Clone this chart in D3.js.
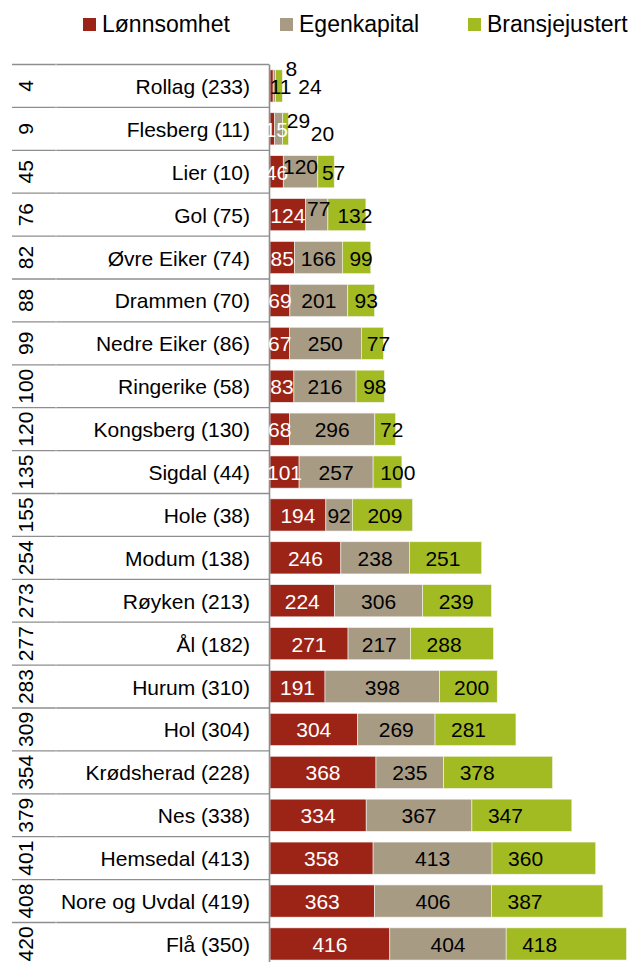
<!DOCTYPE html>
<html>
<head>
<meta charset="utf-8">
<script src="https://cdn.jsdelivr.net/npm/d3@7"></script>
<style>
  body { margin: 0; background: #fff; }
  svg { display: block; font-family: "Liberation Sans", Arial, sans-serif; }
</style>
</head>
<body>
<svg id="chart" width="635" height="962"></svg>
<script>
// kommuner med plassering (venstre kolonne)
const kommuner = ["Rollag (233)", "Flesberg (11)", "Lier (10)", "Gol (75)", "Øvre Eiker (74)", "Drammen (70)",
    "Nedre Eiker (86)", "Ringerike (58)", "Kongsberg (130)", "Sigdal (44)", "Hole (38)", "Modum (138)",
    "Røyken (213)", "Ål (182)", "Hurum (310)", "Hol (304)", "Krødsherad (228)", "Nes (338)",
    "Hemsedal (413)", "Nore og Uvdal (419)", "Flå (350)"];
const rangering = [4, 9, 45, 76, 82, 88, 99, 100, 120, 135, 155, 254, 273, 277, 283, 309, 354, 379, 401, 408, 420];

const seriesNames = ["Lønnsomhet", "Egenkapital", "Bransjejustert"];
const lonnsomhet = [11, 15, 46, 124, 85, 69, 67, 83, 68, 101, 194, 246, 224, 271, 191, 304, 368, 334, 358, 363, 416];
const egenkapital = [8, 29, 120, 77, 166, 201, 250, 216, 296, 257, 92, 238, 306, 217, 398, 269, 235, 367, 413, 406, 404];
const bransjejustert = [24, 20, 57, 132, 99, 93, 77, 98, 72, 100, 209, 251, 239, 288, 200, 281, 378, 347, 360, 387, 418];

const colors = ["#9c2417", "#a89b84", "#a3bb22"];
const labelColors = ["#fff", "#000", "#000"];

// manuelt flyttede etiketter (relativt til midten av segmentet)
const nudges = [
    { row: 0, s: 0, dx: 9, dy: 0, fill: "#000" },
    { row: 0, s: 1, dx: 17, dy: -18 },
    { row: 0, s: 2, dx: 31, dy: 0 },
    { row: 1, s: 0, dx: 4, dy: 0 },
    { row: 1, s: 1, dx: 20, dy: -9 },
    { row: 1, s: 2, dx: 37, dy: 4 },
    { row: 2, s: 1, dx: 0, dy: -6 },
    { row: 3, s: 1, dx: 2, dy: -7 }
];

const data = kommuner.map((k, i) => ({
    kommune: k,
    rank: rangering[i],
    "Lønnsomhet": lonnsomhet[i],
    "Egenkapital": egenkapital[i],
    "Bransjejustert": bransjejustert[i]
}));

const svg = d3.select("#chart");

const chartTop = 64.5, rowH = 42.9;
const y = d3.scaleBand()
    .domain(kommuner)
    .range([chartTop, chartTop + rowH * kommuner.length])
    .paddingInner(0.25)
    .paddingOuter(0.125);

const x = d3.scaleLinear()
    .domain([0, 1250])
    .range([270, 630]);

const stacked = d3.stack().keys(seriesNames)(data);

// tabell-linjer til venstre
const step = y.step();
const boundaries = kommuner.map(k => y(k) - step * 0.125);
boundaries.push(chartTop + rowH * kommuner.length);

svg.append("g")
    .selectAll("line")
    .data(boundaries)
    .enter().append("line")
    .attr("x1", 12)
    .attr("x2", x(0) - 1)
    .attr("y1", d => d)
    .attr("y2", d => d)
    .attr("stroke", "#8e8e8e")
    .attr("stroke-width", 1.3);

// kolonne-skille i tabellen
svg.append("g")
    .selectAll("line")
    .data(boundaries)
    .enter().append("line")
    .attr("x1", 55.5)
    .attr("x2", 56.5)
    .attr("y1", d => d)
    .attr("y2", d => d)
    .attr("stroke", "#d6d6d6")
    .attr("stroke-width", 1.5);

// rangering (rotert)
svg.append("g")
    .selectAll("text")
    .data(data)
    .enter().append("text")
    .attr("transform", d => `translate(33,${y(d.kommune) + y.bandwidth() / 2}) rotate(-90)`)
    .attr("text-anchor", "middle")
    .style("font-size", "21px")
    .attr("fill", "#000")
    .text(d => d.rank);

// kommunenavn
svg.append("g")
    .selectAll("text")
    .data(data)
    .enter().append("text")
    .attr("x", 250)
    .attr("y", d => y(d.kommune) + y.bandwidth() / 2 + 8)
    .attr("text-anchor", "end")
    .style("font-size", "21px")
    .attr("fill", "#000")
    .text(d => d.kommune);

// stablede søyler
const groups = svg.append("g")
    .selectAll("g")
    .data(stacked)
    .enter().append("g")
    .attr("fill", (d, i) => colors[i]);

groups.selectAll("rect")
    .data(d => d)
    .enter().append("rect")
    .attr("x", d => x(d[0]))
    .attr("y", d => y(d.data.kommune))
    .attr("width", d => x(d[1]) - x(d[0]))
    .attr("height", y.bandwidth())
    .attr("stroke", "#f4f4f4")
    .attr("stroke-width", 0.6);

// akse-linje
svg.append("line")
    .attr("x1", x(0) - 0.5)
    .attr("x2", x(0) - 0.5)
    .attr("y1", chartTop)
    .attr("y2", 962)
    .attr("stroke", "#8e8e8e")
    .attr("stroke-width", 1.6);

// dataetiketter
stacked.forEach((layer, s) => {
    svg.append("g")
        .selectAll("text")
        .data(layer)
        .enter().append("text")
        .each(function(d, i) {
            const x0 = x(d[0]), x1 = x(d[1]);
            const w = x1 - x0;
            const cy = y(d.data.kommune) + y.bandwidth() / 2 + 8;
            const n = nudges.find(v => v.row === i && v.s === s);
            const t = d3.select(this)
                .style("font-size", "21px")
                .attr("fill", n && n.fill ? n.fill : labelColors[s])
                .text(d[1] - d[0]);
            if (n) {
                t.attr("x", (x0 + x1) / 2 + n.dx)
                    .attr("y", cy + n.dy)
                    .attr("text-anchor", "middle");
            } else if (s === 2) {
                t.attr("x", x0 + Math.min(16, w * 0.25))
                    .attr("y", cy)
                    .attr("text-anchor", "start");
            } else {
                t.attr("x", (x0 + x1) / 2)
                    .attr("y", cy)
                    .attr("text-anchor", "middle");
            }
        });
});

// legende
const legend = svg.append("g")
    .selectAll("g")
    .data(seriesNames)
    .enter().append("g")
    .attr("transform", (d, i) => `translate(${[83, 280, 468][i]},18)`);

legend.append("rect")
    .attr("width", 13)
    .attr("height", 13)
    .attr("fill", (d, i) => colors[i]);

legend.append("text")
    .attr("x", 19)
    .attr("y", 13.5)
    .style("font-size", "23px")
    .attr("fill", "#000")
    .text(d => d);
</script>
</body>
</html>
